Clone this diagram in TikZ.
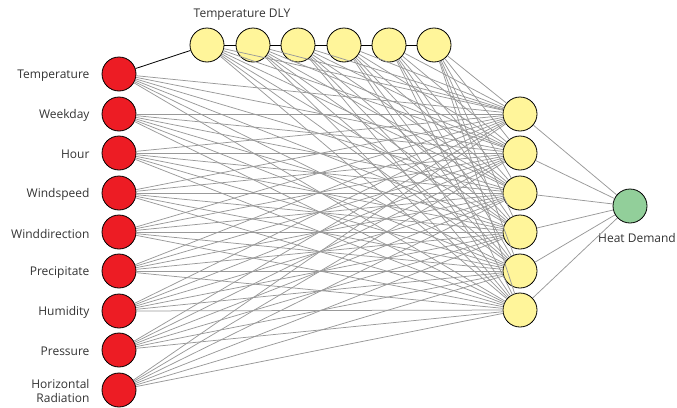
\documentclass[tikz,border=0pt]{standalone}
\usepackage{fontspec}
\setmainfont{Open Sans}
\definecolor{inred}{HTML}{ED1C24}
\definecolor{hidyel}{HTML}{FFF59A}
\definecolor{outgreen}{HTML}{92CF9A}
\definecolor{edgegray}{HTML}{999999}
\begin{document}
\begin{tikzpicture}[x=1pt,y=-1pt,
  neuron/.style={circle,draw=black,line width=0.8pt,minimum size=34pt,inner sep=0pt},
  inneuron/.style={neuron,fill=inred},
  hidneuron/.style={neuron,fill=hidyel},
  outneuron/.style={neuron,fill=outgreen},
  lbl/.style={font=\fontsize{12}{13.5}\selectfont,text=black!80},
  edge/.style={draw=edgegray,line width=0.75pt},
  chain/.style={draw=black,line width=0.8pt}]
\useasboundingbox (0,0) rectangle (677,407);
% input nodes
\foreach \i/\y/\t in {1/74/Temperature,2/114/Weekday,3/153/Hour,4/193/Windspeed,5/232/Winddirection,6/271/Precipitate,7/311/Humidity,8/350/Pressure}{
  \node[inneuron] (in\i) at (119,\y) {};
  \node[lbl,anchor=east] (l\i) at (93,\y+1.5) {\t};
}
\node[inneuron] (in9) at (119,390) {};
\node[lbl,anchor=east,align=right] (l9) at (93,391) {Horizontal\\Radiation};
% delay nodes
\foreach \j/\x in {1/207,2/253,3/298,4/344,5/389,6/434}{
  \node[hidneuron] (d\j) at (\x,45) {};
}
\node[lbl] (dlylbl) at (242,15) {Temperature DLY};
% hidden nodes
\foreach \k/\y in {1/114,2/153,3/193,4/232,5/271,6/310}{
  \node[hidneuron] (h\k) at (520,\y) {};
}
% output node
\node[outneuron] (out) at (630,206) {};
\node[lbl] (outlbl) at (637,238) {Heat Demand};
% edges
\foreach \i in {1,...,9}{\foreach \k in {1,...,6}{\draw[edge] (in\i) -- (h\k);}}
\foreach \j in {1,...,6}{\foreach \k in {1,...,6}{\draw[edge] (d\j) -- (h\k);}}
\foreach \k in {1,...,6}{\draw[edge] (h\k) -- (out);}
\draw[chain] (in1) -- (d1);
\draw[chain] (d1) -- (d2);
\draw[chain] (d2) -- (d3);
\draw[chain] (d3) -- (d4);
\draw[chain] (d4) -- (d5);
\draw[chain] (d5) -- (d6);
\end{tikzpicture}
\end{document}
